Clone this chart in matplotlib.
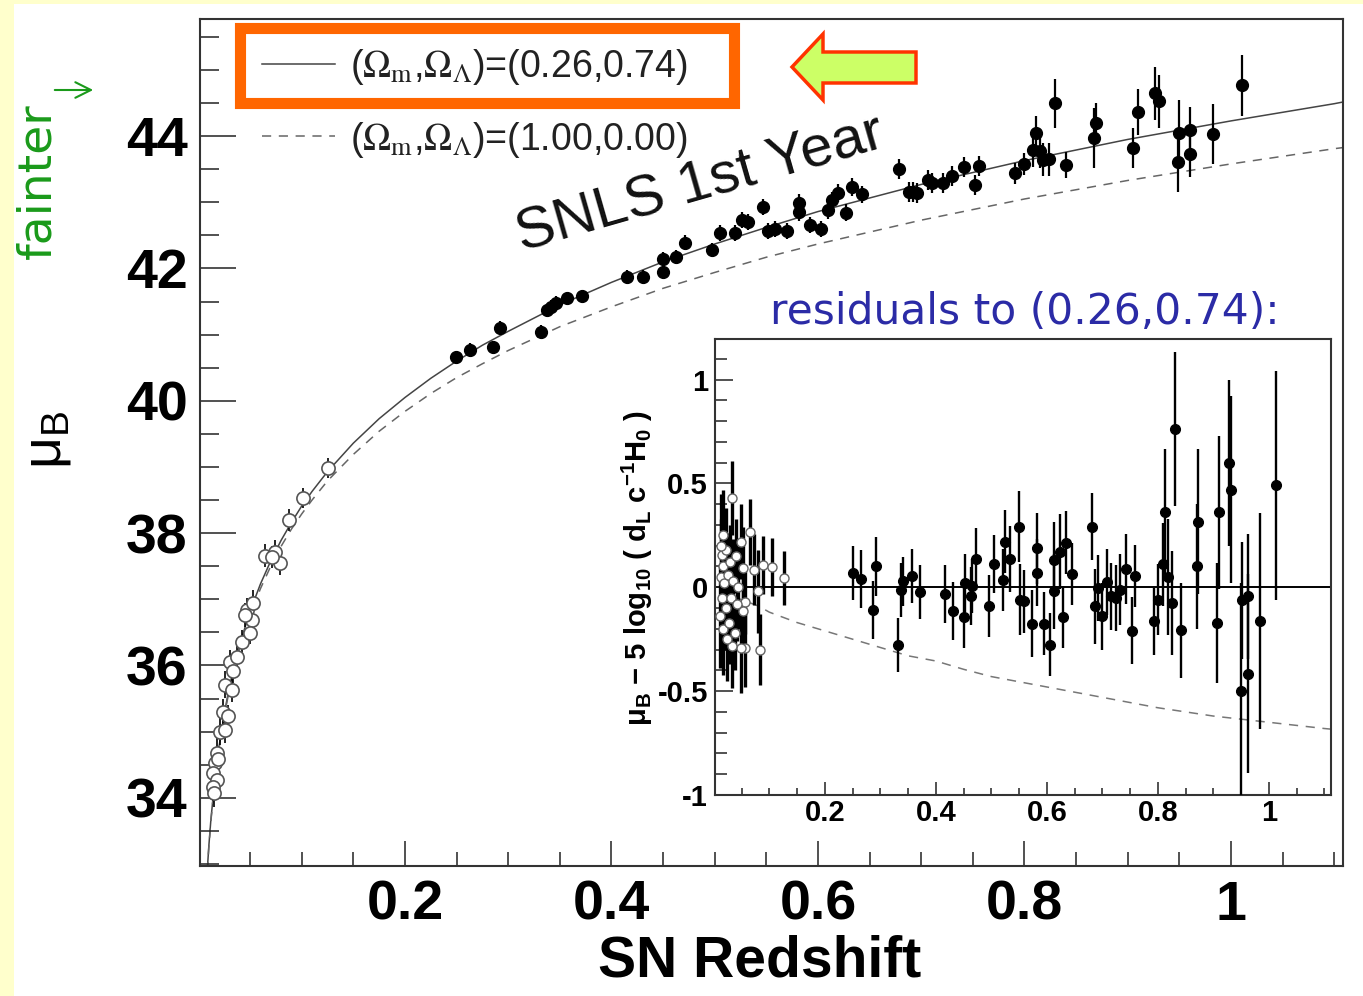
"""SNLS 1st year Hubble diagram with residual inset."""
import matplotlib
matplotlib.use("Agg")
import matplotlib.pyplot as plt
from matplotlib.patches import Rectangle, Polygon, FancyArrowPatch
from matplotlib.font_manager import FontProperties
from matplotlib.ticker import MultipleLocator, FormatStrFormatter

# model curves
model_z = [0.006, 0.008, 0.01, 0.012, 0.015, 0.02, 0.025, 0.03, 0.035, 0.04, 0.05,
           0.06, 0.07, 0.08, 0.09, 0.1, 0.11, 0.125, 0.15, 0.175, 0.2, 0.225, 0.25,
           0.275, 0.3, 0.35, 0.4, 0.45, 0.5, 0.55, 0.6, 0.7, 0.8, 0.9, 1.0, 1.1, 1.11]
lcdm_mu = [32.14, 32.77, 33.26, 33.66, 34.14, 34.78, 35.27, 35.68, 36.02, 36.32, 36.82,
           37.23, 37.58, 37.89, 38.16, 38.41, 38.63, 38.93, 39.36, 39.73, 40.05, 40.34,
           40.60, 40.84, 41.05, 41.45, 41.79, 42.10, 42.37, 42.62, 42.86, 43.27, 43.63,
           43.95, 44.23, 44.49, 44.52]
eds_mu = [32.13, 32.76, 33.24, 33.64, 34.13, 34.75, 35.24, 35.64, 35.98, 36.27, 36.76,
          37.16, 37.50, 37.80, 38.06, 38.29, 38.50, 38.79, 39.19, 39.54, 39.84, 40.11,
          40.35, 40.56, 40.76, 41.12, 41.42, 41.70, 41.94, 42.17, 42.37, 42.73, 43.05,
          43.33, 43.58, 43.81, 43.83]

resid_z = [0.01, 0.02, 0.04, 0.06, 0.08, 0.1, 0.15, 0.2, 0.25, 0.3, 0.35, 0.4, 0.45,
           0.5, 0.55, 0.6, 0.65, 0.7, 0.75, 0.8, 0.9, 1.0, 1.1, 1.12]
eds_resid = [-0.01, -0.03, -0.05, -0.07, -0.09, -0.12, -0.17, -0.21, -0.25, -0.29,
             -0.33, -0.355, -0.395, -0.43, -0.455, -0.48, -0.505, -0.53, -0.555,
             -0.58, -0.62, -0.65, -0.68, -0.685]

# nearby SNe (open circles), main panel
low_z = [0.1257, 0.1015, 0.088, 0.0644, 0.0741, 0.0789, 0.0712, 0.0467, 0.0515,
         0.0531, 0.045, 0.0418, 0.0499, 0.0305, 0.037, 0.0337, 0.0257, 0.0322,
         0.024, 0.0289, 0.0208, 0.0257, 0.0176, 0.016, 0.0143, 0.0176, 0.0143,
         0.0192, 0.015]
low_mu = [38.98, 38.53, 38.20, 37.66, 37.72, 37.55, 37.64, 36.84, 36.69, 36.94,
          36.76, 36.36, 36.49, 36.06, 36.13, 35.91, 35.71, 35.63, 35.30, 35.23,
          35.00, 35.03, 34.68, 34.52, 34.37, 34.27, 34.17, 34.58, 34.08]
low_err = [0.15, 0.15, 0.17, 0.17, 0.17, 0.18, 0.17, 0.18, 0.17, 0.2, 0.18, 0.18,
           0.17, 0.18, 0.17, 0.17, 0.2, 0.18, 0.2, 0.18, 0.2, 0.2, 0.22, 0.2,
           0.22, 0.2, 0.22, 0.2, 0.22]

# SNLS SNe (filled), main panel
snls_z = [0.2494, 0.2630, 0.2852, 0.2920, 0.3317, 0.3375, 0.3414, 0.3462, 0.3569,
          0.3714, 0.4150, 0.4305, 0.4499, 0.4499, 0.4625, 0.4712, 0.4973, 0.5051,
          0.5196, 0.5264, 0.5322, 0.5467, 0.5516, 0.5583, 0.5700, 0.5816, 0.5816,
          0.5922, 0.6029, 0.6097, 0.6136, 0.6194, 0.6271, 0.6329, 0.6426, 0.6784,
          0.6881, 0.6920, 0.6959, 0.7065, 0.7104, 0.7211, 0.7298, 0.7414, 0.7521,
          0.7559, 0.7908, 0.7995, 0.8082, 0.8111, 0.8150, 0.8179, 0.8237, 0.8295,
          0.8402, 0.8673, 0.8693, 0.9051, 0.9099, 0.9264, 0.9303, 0.9487, 0.9496,
          0.9603, 0.9603, 0.9826, 1.0106]
snls_mu = [40.66, 40.77, 40.81, 41.10, 41.04, 41.37, 41.42, 41.48, 41.55, 41.58,
           41.87, 41.87, 41.95, 42.14, 42.17, 42.39, 42.28, 42.53, 42.53, 42.73,
           42.70, 42.93, 42.56, 42.60, 42.56, 42.99, 42.85, 42.66, 42.60, 42.88,
           43.03, 43.14, 42.84, 43.23, 43.12, 43.50, 43.15, 43.15, 43.14, 43.34,
           43.29, 43.29, 43.40, 43.53, 43.26, 43.55, 43.44, 43.58, 43.79, 44.05,
           43.77, 43.64, 43.65, 44.50, 43.56, 43.97, 44.20, 43.82, 44.36, 44.65,
           44.53, 43.61, 44.05, 44.09, 43.73, 44.03, 44.77]
snls_err = [0.10, 0.10, 0.10, 0.10, 0.10, 0.10, 0.10, 0.10, 0.10, 0.10,
            0.10, 0.10, 0.10, 0.11, 0.11, 0.11, 0.11, 0.12, 0.12, 0.12,
            0.12, 0.12, 0.12, 0.12, 0.12, 0.13, 0.13, 0.12, 0.12, 0.13,
            0.13, 0.13, 0.13, 0.13, 0.13, 0.15, 0.15, 0.15, 0.15, 0.15,
            0.15, 0.15, 0.15, 0.15, 0.15, 0.15, 0.16, 0.16, 0.25, 0.25,
            0.25, 0.25, 0.25, 0.37, 0.2, 0.45, 0.3, 0.3, 0.35, 0.4,
            0.4, 0.45, 0.5, 0.35, 0.35, 0.45, 0.46]

# residuals, inset
res_low_z = [0.0144, 0.0173, 0.0324, 0.0654, 0.0486, 0.0714, 0.0882, 0.1045, 0.1267,
             0.080, 0.0564, 0.0533, 0.0822, 0.0564, 0.0486, 0.0324, 0.0522, 0.0114,
             0.0173, 0.0120, 0.0150, 0.0160, 0.0190, 0.0210, 0.0220, 0.0250, 0.0270,
             0.0290, 0.0310, 0.0350, 0.0380, 0.0400, 0.0420, 0.0440, 0.0230, 0.0135]
res_low = [0.156, 0.25, 0.43, 0.265, 0.22, 0.084, 0.108, 0.097, 0.044,
           -0.02, -0.073, -0.116, -0.30, -0.29, -0.29, -0.285, 0.092, -0.14,
           -0.20, 0.05, -0.05, 0.10, 0.02, -0.10, 0.18, 0.06, -0.17,
           0.12, -0.05, 0.03, -0.22, 0.15, -0.08, 0.0, -0.25, 0.20]
res_low_err = [0.20, 0.22, 0.18, 0.16, 0.18, 0.17, 0.14, 0.14, 0.13,
               0.20, 0.15, 0.17, 0.17, 0.19, 0.22, 0.20, 0.20, 0.25,
               0.22, 0.28, 0.25, 0.22, 0.22, 0.20, 0.20, 0.20, 0.20,
               0.18, 0.18, 0.20, 0.18, 0.18, 0.18, 0.20, 0.20, 0.25]

res_snls_z = [0.2504, 0.2648, 0.2924, 0.2865, 0.3326, 0.3405, 0.337, 0.3568, 0.3717,
              0.4168, 0.4317, 0.451, 0.4528, 0.463, 0.465, 0.472, 0.4966, 0.5056,
              0.5218, 0.5249, 0.534, 0.549, 0.552, 0.558, 0.573, 0.582, 0.582,
              0.594, 0.606, 0.612, 0.613, 0.623, 0.629, 0.635, 0.645, 0.681,
              0.687, 0.693, 0.699, 0.708, 0.715, 0.725, 0.732, 0.743, 0.754,
              0.759, 0.793, 0.801, 0.81, 0.813, 0.819, 0.825, 0.831, 0.842,
              0.870, 0.872, 0.906, 0.911, 0.929, 0.932, 0.951, 0.963, 0.9495,
              0.962, 0.984, 1.0126]
res_snls = [0.068, 0.039, 0.10, -0.11, -0.28, 0.028, -0.015, 0.052, -0.025,
            -0.033, -0.116, -0.143, 0.02, -0.044, 0.007, 0.137, -0.089, 0.113,
            0.036, 0.22, 0.136, 0.292, -0.06, -0.068, -0.175, 0.188, 0.071,
            -0.175, -0.276, -0.02, 0.132, 0.172, -0.143, 0.215, 0.063, 0.292,
            -0.092, -0.004, -0.14, 0.025, -0.044, -0.052, -0.012, 0.088, -0.209,
            0.055, -0.164, -0.06, 0.111, 0.364, 0.049, -0.076, 0.762, -0.208,
            0.10, 0.316, -0.172, 0.36, 0.60, 0.469, -0.063, -0.044, -0.50,
            -0.416, -0.164, 0.49]
res_snls_err = [0.13, 0.14, 0.14, 0.14, 0.13, 0.12, 0.13, 0.13, 0.13,
                0.14, 0.14, 0.15, 0.14, 0.14, 0.13, 0.15, 0.15, 0.14,
                0.15, 0.15, 0.16, 0.17, 0.17, 0.15, 0.16, 0.17, 0.16,
                0.15, 0.15, 0.18, 0.18, 0.18, 0.15, 0.15, 0.15, 0.16,
                0.18, 0.16, 0.16, 0.16, 0.16, 0.16, 0.17, 0.17, 0.16,
                0.15, 0.16, 0.17, 0.2, 0.3, 0.28, 0.25, 0.37, 0.23,
                0.3, 0.35, 0.29, 0.37, 0.4, 0.45, 0.28, 0.3, 0.52,
                0.48, 0.52, 0.55]

W, H = 1363, 996


def fx(x):
    return x / W


def fy(y):
    return 1 - y / H


plt.rcParams["font.family"] = ["Liberation Sans", "DejaVu Sans"]
plt.rcParams["mathtext.fontset"] = "custom"
plt.rcParams["mathtext.rm"] = "Liberation Sans"
plt.rcParams["mathtext.bf"] = "Liberation Sans:bold"
plt.rcParams["mathtext.it"] = "Liberation Sans:italic"
plt.rcParams["axes.unicode_minus"] = False

fig = plt.figure(figsize=(W / 100, H / 100), dpi=100, facecolor="#FFFFCC")
fig.add_artist(Rectangle((fx(14), 0), 1 - fx(14), fy(4), transform=fig.transFigure,
                         facecolor="white", edgecolor="none", zorder=-5))

# main Hubble diagram
ax = fig.add_axes([fx(200), fy(866), (1343 - 200) / W, (866 - 19) / H])
l1, = ax.plot(model_z, lcdm_mu, color="#444444", lw=1.1, zorder=1)
l2, = ax.plot(model_z, eds_mu, color="#666666", lw=1.1, dashes=(6, 5), zorder=1)
ax.errorbar(low_z, low_mu, yerr=low_err, fmt="o", ms=9.5, mfc="white", mec="#555555",
            mew=1.2, ecolor="black", elinewidth=1.2, capsize=0, zorder=3)
ax.errorbar(snls_z, snls_mu, yerr=snls_err, fmt="o", ms=8.5, color="black",
            elinewidth=1.6, capsize=0, zorder=4)

ax.set_xlim(0.0015, 1.1085)
ax.set_ylim(32.97, 45.77)
ax.xaxis.set_major_locator(MultipleLocator(0.2))
ax.xaxis.set_minor_locator(MultipleLocator(0.05))
ax.yaxis.set_major_locator(MultipleLocator(2))
ax.yaxis.set_minor_locator(MultipleLocator(0.5))
ax.xaxis.set_major_formatter(FormatStrFormatter("%g"))
ax.yaxis.set_major_formatter(FormatStrFormatter("%g"))
ax.tick_params(which="both", direction="in", top=False, right=False, width=1.1,
               color="#222222", labelsize=40)
ax.tick_params(axis="x", which="major", length=18, pad=10)
ax.tick_params(axis="x", which="minor", length=10)
ax.tick_params(axis="y", which="major", length=26, pad=9)
ax.tick_params(axis="y", which="minor", length=14)
plt.setp(ax.get_xticklabels() + ax.get_yticklabels(), fontweight="bold")
for sp in ax.spines.values():
    sp.set_linewidth(1.5)
    sp.set_color("#333333")

leg_font = FontProperties(family="Liberation Sans", size=27, math_fontfamily="stix")
ax.legend([l1, l2],
          [r"($\Omega_{\mathrm{m}}$,$\Omega_{\Lambda}$)=(0.26,0.74)",
           r"($\Omega_{\mathrm{m}}$,$\Omega_{\Lambda}$)=(1.00,0.00)"],
          loc="upper left", bbox_to_anchor=(fx(262), fy(47)),
          bbox_transform=fig.transFigure, frameon=False, borderpad=0,
          borderaxespad=0, handlelength=1.95, handletextpad=0.4,
          labelspacing=0.87, prop=leg_font, labelcolor="#222222")

fig.text(fx(522), fy(252), "SNLS 1st Year", rotation=16, rotation_mode="anchor",
         ha="left", va="baseline", fontsize=42, color="#111111")

fig.text(fx(760), fy(961), "SN Redshift", ha="center", va="center", fontsize=41,
         fontweight="bold")
fig.text(fx(47), fy(440), r"μ$_\mathrm{B}$", rotation=90, ha="center", va="center",
         fontsize=40)

# highlight box and arrow
fig.add_artist(Rectangle((fx(240), fy(103)), (734 - 240) / W, (103 - 28) / H,
                         transform=fig.transFigure, fill=False, edgecolor="#FF6600",
                         linewidth=8, zorder=6))
arrow_px = [(792, 67), (823, 34), (823, 52), (916, 52), (916, 83), (823, 83), (823, 100)]
fig.add_artist(Polygon([(fx(x), fy(y)) for x, y in arrow_px], closed=True,
                       transform=fig.transFigure, facecolor="#CCFF66",
                       edgecolor="#FF3300", linewidth=2.5, zorder=6))

green = "#1a9a1a"
fig.text(fx(38), fy(181), "fainter", rotation=90, ha="center", va="center",
         fontsize=34, color=green, family="DejaVu Sans")
fig.add_artist(FancyArrowPatch((fx(52), fy(90)), (fx(96), fy(90)),
                               transform=fig.transFigure, arrowstyle="->",
                               mutation_scale=28, lw=1.5, color=green))

fig.text(fx(770), fy(312), "residuals to (0.26,0.74):", ha="left", va="center",
         fontsize=30.5, color="#2b2ba6", family="DejaVu Sans")

# residual inset
ax2 = fig.add_axes([fx(715), fy(795), (1331 - 715) / W, (795 - 339) / H])
ax2.axhline(0, color="black", lw=1.4, zorder=1)
ax2.plot(resid_z, eds_resid, color="#777777", lw=1.1, dashes=(6, 5), zorder=1)
ax2.errorbar(res_low_z, res_low, yerr=res_low_err, fmt="o", ms=6.5, mfc="white",
             mec="#666666", mew=1.0, ecolor="black", elinewidth=2.4, capsize=0, zorder=3)
ax2.errorbar(res_snls_z, res_snls, yerr=res_snls_err, fmt="o", ms=7, color="black",
             elinewidth=1.7, capsize=0, zorder=4)
ax2.set_xlim(0.002, 1.112)
ax2.set_ylim(-1.0, 1.195)
ax2.xaxis.set_major_locator(MultipleLocator(0.2))
ax2.xaxis.set_minor_locator(MultipleLocator(0.05))
ax2.yaxis.set_major_locator(MultipleLocator(0.5))
ax2.yaxis.set_minor_locator(MultipleLocator(0.1))
ax2.xaxis.set_major_formatter(FormatStrFormatter("%g"))
ax2.yaxis.set_major_formatter(FormatStrFormatter("%g"))
ax2.tick_params(which="both", direction="in", top=False, right=False, width=1.1,
                color="#222222", labelsize=21)
ax2.tick_params(axis="x", which="major", length=9.5, pad=3)
ax2.tick_params(axis="x", which="minor", length=5)
ax2.tick_params(axis="y", which="major", length=13, pad=5)
ax2.tick_params(axis="y", which="minor", length=8.5)
plt.setp(ax2.get_xticklabels() + ax2.get_yticklabels(), fontweight="bold")
for sp in ax2.spines.values():
    sp.set_linewidth(1.5)
    sp.set_color("#333333")

fig.text(fx(637), fy(568),
         r"μ$_\mathbf{B}$ − 5 log$_\mathbf{10}$ ( d$_\mathbf{L}$ c$^\mathbf{-1}$H$_\mathbf{0}$ )",
         rotation=90, ha="center", va="center", fontsize=21, fontweight="bold")

fig.savefig("out.png", dpi=100, facecolor=fig.get_facecolor())
plt.close(fig)
